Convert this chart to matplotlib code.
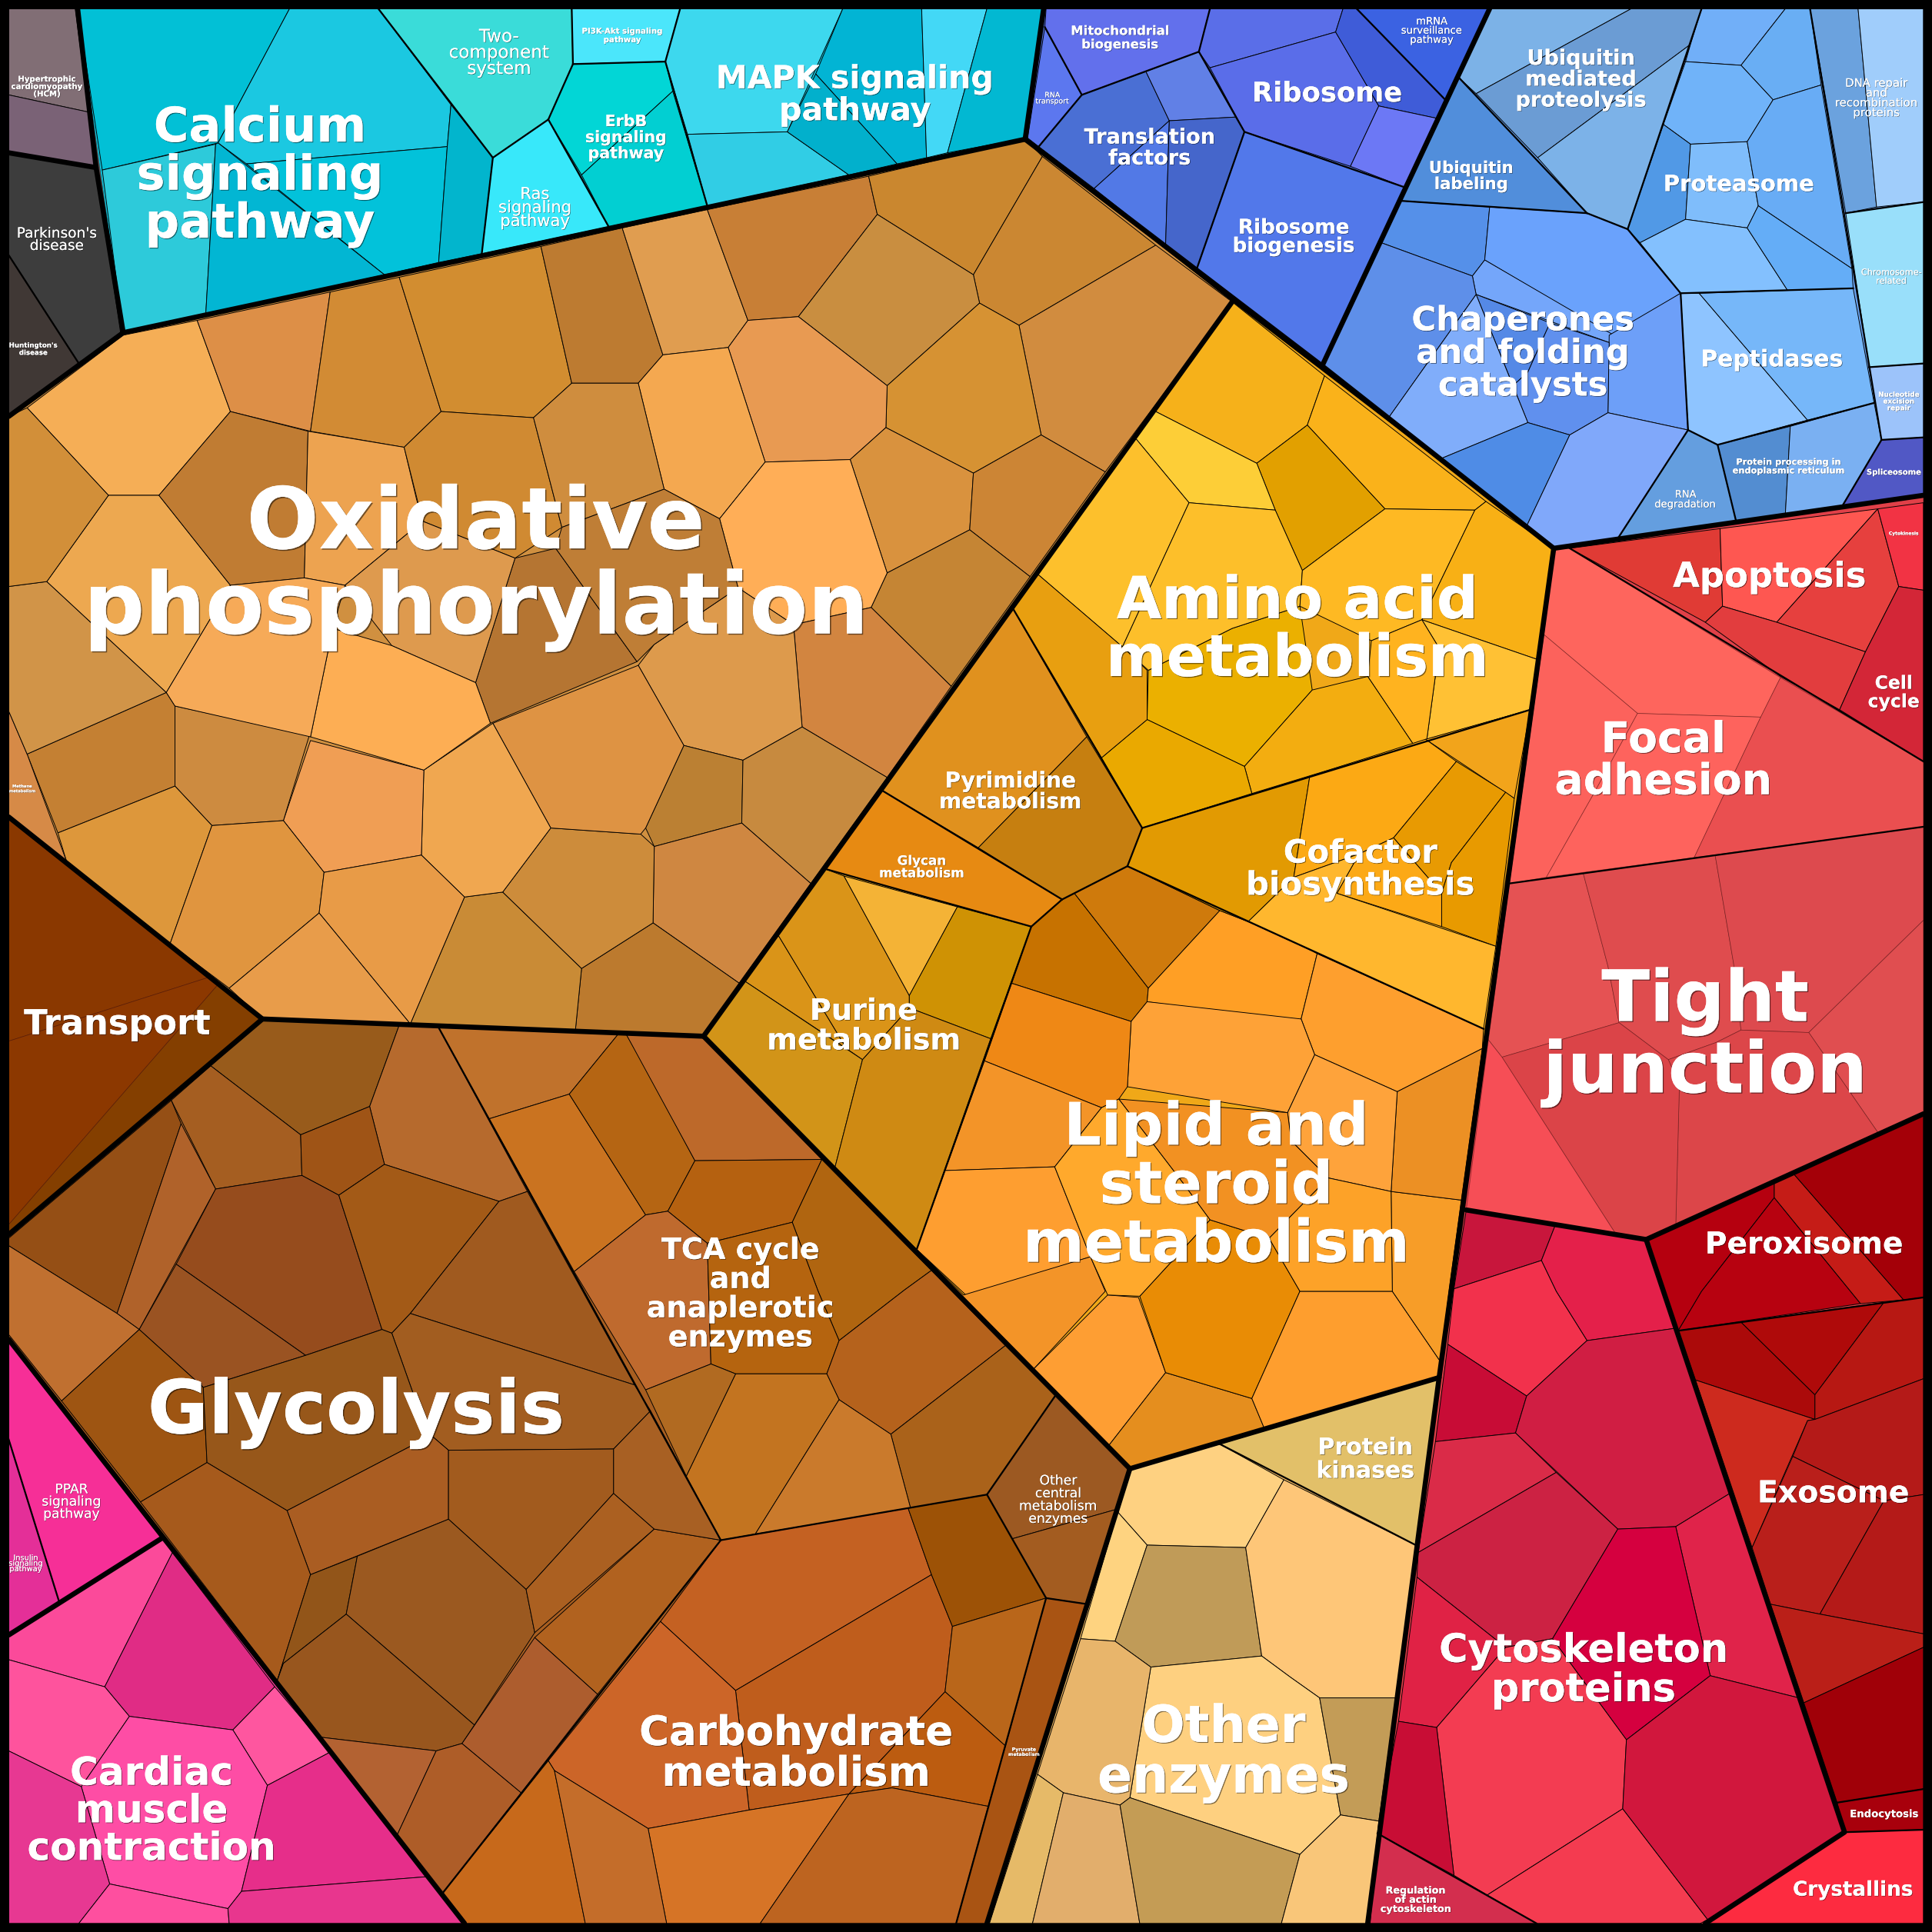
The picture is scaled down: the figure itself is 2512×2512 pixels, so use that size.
import matplotlib
matplotlib.use("Agg")
import matplotlib.pyplot as plt
import matplotlib.patheffects as pe
from matplotlib.collections import PolyCollection
from matplotlib.font_manager import FontProperties
from matplotlib.textpath import TextPath

# voronoi treemap, cell outlines (1568 units across)
disease_cells = [
    ("#816e75", [(7,7),(61,7),(72,91),(7,77)]),
    ("#7a6276", [(7,77),(72,91),(78,136),(7,124)]),
    ("#3d3d3d", [(7,124),(78,136),(98,271),(64,295),(7,207)]),
    ("#403835", [(7,207),(64,295),(7,338)]),
]
signaling_cells = [
    ("#02c0d6", [(63,7),(235,7),(177,116),(83,138)]),
    ("#1bc8e1", [(235,7),(307,7),(366,85),(363,119),(200,133),(177,116)]),
    ("#02c2da", [(200,133),(363,119),(356,213),(312,223)]),
    ("#02b5cd", [(366,85),(400,128),(391,206),(356,213),(363,119)]),
    ("#2dcada", [(83,138),(175,117),(167,255),(100,270)]),
    ("#02b6d3", [(175,117),(177,116),(312,223),(167,255)]),
    ("#3adcd9", [(307,7),(464,7),(465,52),(445,97),(400,128)]),
    ("#4be6fb", [(464,7),(552,7),(540,50),(465,52)]),
    ("#02d6d6", [(465,52),(540,50),(546,74),(472,142),(445,97)]),
    ("#02cfd2", [(546,74),(574,167),(494,184),(472,142)]),
    ("#38e8fa", [(445,97),(494,184),(391,206),(400,128)]),
    ("#3dd8ee", [(552,7),(684,7),(639,107),(558,109),(540,50)]),
    ("#31cde5", [(558,109),(639,107),(689,142),(574,167)]),
    ("#02b4d4", [(684,7),(748,7),(752,128),(728,133),(662,60)]),
    ("#02b0cc", [(662,60),(728,133),(689,142),(639,107)]),
    ("#43d8f6", [(748,7),(801,7),(769,124),(752,128)]),
    ("#02b8d2", [(801,7),(847,7),(833,112),(769,124)]),
]
translation_cells = [
    ("#5c77ef", [(848,22),(878,77),(843,119),(834,112)]),
    ("#6270ec", [(849,7),(982,7),(973,42),(878,77),(848,22)]),
    ("#4a6fd4", [(878,77),(930,58),(949,98),(888,153),(843,119)]),
    ("#6180e6", [(930,58),(973,42),(1003,95),(949,98)]),
    ("#5279e6", [(949,98),(946,199),(888,153)]),
    ("#4566cb", [(949,98),(1003,95),(1010,107),(971,219),(946,199)]),
    ("#5278ea", [(1010,107),(1140,152),(1136,163),(1073,297),(971,219)]),
    ("#5a6ee8", [(982,7),(1090,7),(1084,26),(982,55),(973,42)]),
    ("#5a6de9", [(982,55),(1084,26),(1119,86),(1096,135),(1010,107)]),
    ("#3f5cd8", [(1090,7),(1101,7),(1173,81),(1166,96),(1119,86),(1084,26)]),
    ("#6c78f5", [(1119,86),(1166,96),(1140,152),(1096,135)]),
    ("#3b62e2", [(1101,7),(1209,7),(1173,81)]),
]
proteostasis_cells = [
    ("#7cb2e7", [(1209,7),(1324,7),(1198,76),(1184,63)]),
    ("#6b9cd4", [(1324,7),(1381,7),(1372,36),(1248,128),(1198,76)]),
    ("#7cb2e8", [(1372,36),(1321,186),(1288,173),(1248,128)]),
    ("#518edb", [(1184,63),(1288,173),(1137,163)]),
    ("#71aff8", [(1381,7),(1449,7),(1413,53),(1368,50),(1372,36)]),
    ("#69aef4", [(1449,7),(1469,7),(1478,69),(1439,81),(1413,53)]),
    ("#70b3f9", [(1368,50),(1413,53),(1439,81),(1418,115),(1372,117),(1350,101)]),
    ("#5199e6", [(1350,101),(1372,117),(1368,178),(1331,197),(1321,186)]),
    ("#7fbdfb", [(1372,117),(1418,115),(1427,167),(1418,185),(1368,178)]),
    ("#68acf5", [(1439,81),(1478,69),(1503,218),(1427,167),(1418,115)]),
    ("#83c0fe", [(1331,197),(1368,178),(1418,185),(1451,236),(1364,238)]),
    ("#64adf7", [(1418,185),(1427,167),(1503,218),(1504,234),(1451,236)]),
    ("#8ec4ff", [(1364,238),(1379,238),(1467,341),(1394,361),(1370,349)]),
    ("#76b7f9", [(1379,238),(1504,234),(1521,327),(1467,341)]),
    ("#649edf", [(1370,349),(1394,361),(1409,423),(1313,437)]),
    ("#538dd1", [(1394,361),(1453,346),(1449,417),(1409,423)]),
    ("#7ab0f2", [(1453,346),(1521,327),(1527,357),(1495,411),(1449,417)]),
    ("#5158c5", [(1527,357),(1561,355),(1561,402),(1495,411)]),
    ("#9cc3fa", [(1517,298),(1561,295),(1561,355),(1527,357)]),
    ("#99dffa", [(1498,173),(1561,164),(1561,295),(1517,298)]),
    ("#6ba2de", [(1469,7),(1508,7),(1523,168),(1498,173)]),
    ("#a0cdfb", [(1508,7),(1561,7),(1561,164),(1523,168)]),
    ("#5590e9", [(1137,163),(1209,168),(1205,211),(1195,224),(1121,197)]),
    ("#6aa2fc", [(1209,168),(1288,173),(1321,186),(1364,238),(1326,262),(1308,272),(1205,211)]),
    ("#74a6fa", [(1205,211),(1308,271),(1306,278),(1198,239),(1195,224)]),
    ("#6d9ff8", [(1364,238),(1370,349),(1305,335),(1306,272)]),
    ("#5589e6", [(1198,239),(1258,262),(1240,302),(1228,313)]),
    ("#6090ee", [(1258,262),(1306,278),(1305,335),(1274,353),(1240,343),(1228,313),(1240,302)]),
    ("#5e8fe9", [(1121,197),(1195,224),(1198,239),(1127,339),(1073,297)]),
    ("#80adfa", [(1127,339),(1198,239),(1240,343),(1170,372)]),
    ("#4f8ce6", [(1170,372),(1240,343),(1274,353),(1239,427)]),
    ("#80a8fa", [(1274,353),(1305,335),(1370,349),(1313,437),(1261,445),(1239,427)]),
]
amino_cells = [
    ("#f6b11a", [(1000,245),(1075,305),(1061,345),(1020,376),(936,333)]),
    ("#fab21a", [(1075,305),(1206,407),(1197,414),(1124,413),(1061,345)]),
    ("#e2a000", [(1061,345),(1124,413),(1057,463),(1035,414),(1020,376)]),
    ("#fdce37", [(936,333),(1020,376),(1035,414),(965,408),(921,355)]),
    ("#fdc02c", [(921,355),(965,408),(911,525),(841,465)]),
    ("#ebb000", [(932,544),(1000,510),(1055,492),(1065,560),(1010,622),(931,584)]),
    ("#fdbf2a", [(965,408),(1035,414),(1057,463),(1055,492),(1000,510),(932,544),(911,525)]),
    ("#feb923", [(1057,463),(1124,413),(1197,414),(1154,503),(1113,520),(1055,492)]),
    ("#f8b015", [(1197,414),(1206,407),(1261,445),(1250,536),(1154,503)]),
    ("#ffc134", [(1154,503),(1250,536),(1242,576),(1158,600),(1168,526)]),
    ("#ffb31f", [(1113,520),(1154,503),(1168,526),(1158,600),(1147,604),(1110,549)]),
    ("#f3ad10", [(1065,560),(1110,549),(1147,604),(1016,644),(1010,622)]),
    ("#eaa900", [(931,584),(1010,622),(1016,644),(927,672),(894,615)]),
    ("#e89f10", [(841,465),(911,525),(931,544),(931,584),(894,615),(821,492)]),
]
nucleotide_cells = [
    ("#e0911e", [(821,492),(882,598),(794,688),(715,641)]),
    ("#c67f10", [(882,598),(927,672),(915,703),(862,730),(794,688)]),
    ("#e78a12", [(715,641),(862,730),(837,752),(669,705)]),
    ("#da9418", [(631,758),(687,851),(604,796)]),
    ("#da9418", [(669,705),(685,711),(738,808),(738,818),(700,860),(687,851),(631,758)]),
    ("#f4b336", [(685,711),(777,736),(738,808)]),
    ("#cf9204", [(777,736),(837,752),(804,843),(738,818),(738,808)]),
    ("#d29418", [(604,796),(700,860),(677,950),(571,841)]),
    ("#cf8a13", [(700,860),(738,818),(804,843),(744,1014),(677,950)]),
]
oxphos_cells = [
    ("#f5ae56", [(100,272),(160,260),(187,334),(129,402),(88,402),(22,331)]),
    ("#dd8f47", [(160,260),(268,237),(252,350),(187,334)]),
    ("#d28b34", [(268,237),(324,225),(358,334),(328,363),(252,350)]),
    ("#d28d30", [(324,225),(439,200),(464,311),(433,339),(358,334)]),
    ("#bd7b31", [(439,200),(505,185),(538,288),(518,311),(464,311)]),
    ("#e09d50", [(505,185),(574,170),(607,260),(591,282),(538,288)]),
    ("#c87f36", [(574,170),(705,143),(712,174),(648,257),(607,260)]),
    ("#ca872f", [(705,143),(832,113),(846,127),(790,223),(712,174)]),
    ("#cb8732", [(846,127),(938,199),(827,264),(795,246),(790,223)]),
    ("#c98e40", [(712,174),(790,223),(795,246),(720,313),(648,257)]),
    ("#d18c3f", [(938,199),(1000,245),(897,383),(845,353),(827,264)]),
    ("#d69233", [(795,246),(827,264),(845,353),(790,384),(719,347),(720,313)]),
    ("#e89a52", [(648,257),(720,313),(719,347),(690,373),(621,375),(591,282),(607,260)]),
    ("#f4a850", [(538,288),(591,282),(621,375),(584,421),(539,397),(518,311)]),
    ("#d9923e", [(690,373),(719,347),(790,384),(787,430),(720,465)]),
    ("#cc8535", [(790,384),(845,353),(897,383),(836,468),(787,430)]),
    ("#c58534", [(787,430),(836,468),(772,557),(707,493),(720,465)]),
    ("#ffae57", [(621,375),(690,373),(720,465),(707,493),(644,507),(599,477),(584,421)]),
    ("#d28540", [(644,507),(707,493),(772,557),(720,631),(651,590)]),
    ("#dd9a4c", [(531,523),(599,477),(644,507),(651,590),(603,617),(555,605),(518,540)]),
    ("#bb8033", [(603,617),(602,668),(531,687),(524,672),(555,605)]),
    ("#c78a3f", [(603,617),(651,590),(720,631),(658,717),(602,668)]),
    ("#cf8741", [(531,687),(602,668),(658,717),(600,798),(530,749)]),
    ("#bc7a2e", [(472,786),(530,749),(600,798),(571,841),(467,836)]),
    ("#c98b36", [(377,728),(408,724),(472,786),(467,836),(333,831)]),
    ("#cd8c3b", [(408,724),(447,672),(520,677),(531,687),(530,749),(472,786)]),
    ("#de9343", [(400,587),(518,540),(555,605),(524,672),(520,677),(447,672)]),
    ("#f0a750", [(344,625),(400,587),(447,672),(408,724),(377,728),(342,694)]),
    ("#f09e54", [(252,601),(344,625),(342,694),(263,708),(230,666)]),
    ("#cd8b40", [(142,573),(251,597),(230,666),(172,670),(142,638)]),
    ("#c48033", [(135,562),(142,573),(142,638),(47,676),(22,612)]),
    ("#dd973b", [(47,676),(142,638),(172,670),(138,766),(54,699)]),
    ("#e0953f", [(172,670),(230,666),(263,708),(259,741),(186,802),(138,766)]),
    ("#e89b47", [(263,708),(342,694),(377,728),(333,831),(259,741)]),
    ("#e89c4a", [(259,741),(333,831),(213,827),(186,802)]),
    ("#d68a47", [(7,577),(22,612),(54,699),(7,663)]),
    ("#d19448", [(7,476),(38,472),(135,562),(22,612),(7,577)]),
    ("#eda850", [(38,472),(88,402),(129,402),(187,475),(135,562)]),
    ("#d28f39", [(7,338),(22,331),(88,402),(38,472),(7,476)]),
    ("#c07c33", [(187,334),(250,350),(247,469),(187,475),(129,402)]),
    ("#eda350", [(250,350),(328,363),(338,405),(343,423),(332,432),(280,475),(247,469)]),
    ("#d08a32", [(358,334),(433,339),(456,428),(418,453),(343,423),(328,363)]),
    ("#cf8d3e", [(433,339),(464,311),(518,311),(539,397),(456,428)]),
    ("#b57532", [(418,453),(451,445),(517,537),(398,587),(386,554)]),
    ("#bf7e36", [(456,428),(539,397),(584,421),(599,477),(531,523),(517,537),(451,445)]),
    ("#de9a4e", [(280,475),(332,432),(343,423),(418,453),(386,554),(318,524)]),
    ("#fdae54", [(270,510),(318,524),(386,554),(398,587),(344,625),(252,598)]),
    ("#f6aa58", [(187,475),(247,469),(280,475),(270,510),(252,598),(142,573),(135,562)]),
]
transport_cells = [
    ("#8a3800", [(7,663),(170,793),(7,845)]),
    ("#8c3800", [(7,845),(170,793),(177,799),(7,994)]),
    ("#843f00", [(177,799),(213,826),(7,1002),(7,994)]),
]
glycolysis_cells = [
    ("#985b1b", [(213,827),(324,832),(300,898),(244,921),(171,865)]),
    ("#b66a2d", [(324,832),(356,834),(428,967),(405,975),(312,945),(300,898)]),
    ("#a55e21", [(171,865),(244,921),(245,954),(175,965),(139,893)]),
    ("#9f5416", [(244,921),(300,898),(312,945),(275,970),(245,954)]),
    ("#954f15", [(7,1005),(139,893),(147,912),(95,1066),(7,1011)]),
    ("#b0622a", [(147,912),(175,965),(113,1079),(95,1066)]),
    ("#964c1d", [(143,1026),(175,965),(245,954),(275,970),(310,1079),(248,1100)]),
    ("#9a5322", [(143,1026),(248,1100),(165,1126),(113,1079)]),
    ("#a35a17", [(275,970),(312,945),(405,975),(333,1066),(318,1082),(310,1079)]),
    ("#a05a1f", [(405,975),(428,967),(515,1124),(333,1066)]),
    ("#a25d20", [(318,1082),(333,1066),(515,1124),(528,1145),(498,1176),(364,1177),(350,1165),(335,1130)]),
    ("#c07030", [(7,1011),(95,1066),(113,1079),(50,1137),(7,1083)]),
    ("#9e5512", [(113,1079),(165,1126),(168,1187),(114,1219),(50,1137)]),
    ("#97571a", [(165,1126),(248,1100),(310,1079),(318,1082),(335,1130),(350,1165),(233,1226),(168,1187)]),
    ("#aa5d22", [(233,1226),(350,1165),(364,1177),(364,1233),(252,1278)]),
    ("#a25b1e", [(364,1177),(498,1176),(498,1212),(427,1290),(364,1233)]),
    ("#a65a1c", [(114,1219),(168,1187),(233,1226),(252,1278),(225,1364)]),
    ("#925519", [(252,1278),(290,1263),(281,1310),(230,1350),(225,1364)]),
    ("#9b5920", [(290,1263),(364,1233),(427,1290),(434,1325),(385,1400),(281,1310)]),
    ("#98561e", [(230,1350),(281,1310),(385,1400),(375,1415),(354,1421),(261,1410),(225,1364)]),
    ("#b36232", [(261,1410),(354,1421),(322,1490)]),
    ("#ae5d28", [(354,1421),(375,1415),(423,1455),(358,1538),(322,1490)]),
    ("#ad5d2e", [(375,1415),(434,1329),(485,1375),(423,1455)]),
    ("#ab6021", [(427,1290),(498,1212),(531,1241),(434,1325)]),
    ("#b1621f", [(434,1329),(531,1241),(585,1250),(485,1375)]),
    ("#a86023", [(498,1176),(528,1145),(585,1250),(531,1241),(498,1212)]),
]
tca_cells = [
    ("#c0722c", [(356,834),(502,839),(462,888),(397,908)]),
    ("#ca7320", [(397,908),(462,888),(524,986),(466,1032)]),
    ("#b56513", [(462,888),(502,839),(508,839),(524,867),(564,942),(542,983),(524,986)]),
    ("#bd692a", [(508,839),(571,841),(667,941),(564,942)]),
    ("#b56110", [(564,942),(667,941),(643,992),(574,1009),(542,983)]),
    ("#b06510", [(667,941),(756,1031),(734,1047),(681,1088),(664,1048),(643,992)]),
    ("#bf6a2e", [(466,1032),(524,986),(542,983),(574,1009),(577,1107),(524,1128)]),
    ("#b5640f", [(574,1009),(643,992),(664,1048),(681,1088),(671,1115),(597,1115),(577,1107)]),
    ("#b5621c", [(734,1047),(756,1031),(816,1092),(723,1164),(681,1136),(671,1115),(681,1088)]),
    ("#aa621a", [(816,1092),(857,1132),(801,1213),(739,1224),(723,1164)]),
    ("#c37420", [(597,1115),(671,1115),(681,1136),(613,1245),(585,1250),(557,1198)]),
    ("#ca7a2c", [(681,1136),(723,1164),(739,1224),(613,1245)]),
    ("#b16a21", [(524,1128),(577,1107),(597,1115),(557,1198)]),
    ("#9c5922", [(857,1132),(917,1192),(906,1225),(821,1249),(801,1213)]),
    ("#a35c20", [(821,1249),(906,1225),(883,1302),(849,1297)]),
    ("#a95413", [(849,1297),(883,1302),(801,1561),(776,1561)]),
]
carbohydrate_cells = [
    ("#c46122", [(585,1250),(737,1224),(756,1278),(597,1372),(536,1316)]),
    ("#bf5d1c", [(756,1278),(773,1320),(767,1373),(689,1456),(608,1469),(597,1372)]),
    ("#9d5206", [(737,1224),(801,1213),(849,1297),(773,1320),(756,1278)]),
    ("#b9661a", [(773,1320),(849,1297),(816,1417),(767,1373)]),
    ("#bc5c10", [(767,1373),(816,1417),(802,1466),(724,1451),(689,1456)]),
    ("#cc6528", [(536,1316),(597,1372),(608,1469),(526,1484),(450,1437),(445,1429)]),
    ("#d67426", [(526,1484),(608,1469),(689,1456),(617,1561),(541,1561)]),
    ("#bd6420", [(689,1456),(724,1451),(802,1466),(776,1561),(617,1561)]),
    ("#c7691b", [(445,1429),(450,1437),(475,1561),(377,1561),(358,1538)]),
    ("#c46d2a", [(450,1437),(526,1484),(541,1561),(475,1561)]),
]
lipid_cells = [
    ("#c77200", [(862,730),(872,725),(932,802),(931,813),(918,829),(821,798),(837,752)]),
    ("#cf7a0c", [(872,725),(915,703),(990,739),(932,802)]),
    ("#ff9f25", [(990,739),(1013,748),(1048,762),(1069,774),(1056,827),(1047,829),(931,813),(932,802)]),
    ("#fe9f2e", [(1069,774),(1204,835),(1203,851),(1134,886),(1067,856),(1056,827)]),
    ("#fea237", [(931,813),(1056,827),(1067,856),(1045,903),(915,882),(918,829)]),
    ("#ef8815", [(821,798),(918,829),(915,882),(908,892),(894,899),(799,861)]),
    ("#f39428", [(799,861),(894,899),(856,947),(767,950)]),
    ("#fe9e30", [(767,950),(856,947),(885,1020),(785,1052),(744,1014)]),
    ("#f39428", [(782,1051),(885,1020),(897,1048),(839,1111),(744,1014)]),
    ("#fe9e33", [(899,1051),(924,1053),(946,1114),(900,1173),(839,1111)]),
    ("#e58e1e", [(946,1114),(1016,1135),(1026,1159),(917,1192),(900,1173)]),
    ("#e98c05", [(925,1052),(982,990),(1030,1005),(1055,1048),(1016,1135),(946,1114)]),
    ("#fe9e2e", [(1016,1135),(1055,1048),(1130,1048),(1169,1105),(1168,1118),(1026,1159)]),
    ("#f79d28", [(1130,1048),(1129,967),(1186,974),(1176,1048),(1169,1105)]),
    ("#ec9024", [(1134,886),(1203,851),(1186,974),(1129,967)]),
    ("#fea33b", [(1067,856),(1134,886),(1129,967),(1078,956),(1048,926),(1045,903)]),
    ("#f29122", [(908,892),(1045,903),(1048,926),(1078,956),(1030,1005),(982,990),(960,960)]),
    ("#ffa92c", [(894,899),(908,892),(960,960),(982,990),(925,1052),(899,1051),(885,1020),(856,947)]),
    ("#fda228", [(1030,1005),(1078,956),(1129,967),(1130,1048),(1055,1048)]),
]
cofactor_cells = [
    ("#f2a41b", [(1157,600),(1242,576),(1229,648)]),
    ("#e29a02", [(927,672),(1063,630),(1050,712),(1013,748),(990,739),(915,703)]),
    ("#fca914", [(1063,630),(1157,600),(1182,618),(1131,680),(1103,693),(1050,712)]),
    ("#e89a02", [(1182,618),(1222,643),(1178,700),(1170,725),(1131,680)]),
    ("#e89a00", [(1222,643),(1229,648),(1214,768),(1170,752),(1170,725),(1178,700)]),
    ("#fca916", [(1131,680),(1170,725),(1170,752),(1085,725),(1103,693)]),
    ("#ffb72e", [(1013,748),(1050,712),(1103,693),(1085,725),(1214,768),(1204,835)]),
]
enzyme_cells = [
    ("#e2c069", [(990,1172),(1168,1118),(1149,1254)]),
    ("#fed181", [(917,1192),(990,1172),(1042,1201),(1011,1256),(931,1254),(907,1227)]),
    ("#fed380", [(907,1227),(931,1254),(905,1332),(877,1330)]),
    ("#c09b58", [(931,1254),(1011,1256),(1024,1344),(934,1353),(905,1332)]),
    ("#fec678", [(1042,1201),(1149,1254),(1133,1378),(1071,1378),(1047,1361),(1024,1344),(1011,1256)]),
    ("#fed080", [(934,1353),(1024,1344),(1047,1361),(1071,1378),(1088,1473),(1055,1505),(917,1459)]),
    ("#c39c57", [(1071,1378),(1133,1378),(1119,1478),(1088,1473)]),
    ("#e8b56b", [(877,1330),(905,1332),(934,1353),(917,1459),(909,1465),(863,1455),(842,1440)]),
    ("#e6ba68", [(842,1440),(863,1455),(838,1561),(803,1561)]),
    ("#e2ae6c", [(863,1455),(909,1465),(925,1561),(838,1561)]),
    ("#c49c55", [(909,1465),(917,1459),(1055,1505),(1040,1561),(925,1561)]),
    ("#f9c679", [(1055,1505),(1088,1473),(1119,1478),(1110,1561),(1040,1561)]),
]
apoptosis_cells = [
    ("#e03b35", [(1274,445),(1396,429),(1398,492),(1384,505)]),
    ("#fe5751", [(1396,429),(1524,413),(1442,505),(1398,492)]),
    ("#e6403e", [(1524,413),(1541,476),(1514,529),(1442,505)]),
    ("#e23d3e", [(1398,492),(1442,505),(1514,529),(1493,576),(1445,549),(1384,505)]),
    ("#f23344", [(1524,413),(1561,408),(1561,479),(1541,476)]),
    ("#d32637", [(1541,476),(1561,479),(1561,618),(1493,576),(1514,529)]),
]
junction_cells = [
    ("#fe655d", [(1261,445),(1274,445),(1445,550),(1429,582),(1329,579),(1253,515)]),
    ("#fc625c", [(1253,515),(1329,579),(1293,645),(1255,712),(1225,717)]),
    ("#fe635d", [(1329,579),(1429,582),(1375,696),(1255,712),(1293,645)]),
    ("#ea4f50", [(1445,550),(1561,618),(1561,671),(1375,696),(1429,582)]),
    ("#e55253", [(1225,717),(1285,709),(1305,784),(1314,830),(1219,858),(1208,844)]),
    ("#df4c4e", [(1285,709),(1392,694),(1407,782),(1413,836),(1393,846),(1354,860),(1314,830),(1305,784)]),
    ("#dd4a4e", [(1392,694),(1561,671),(1561,747),(1468,838),(1413,836),(1407,782)]),
    ("#e04e50", [(1468,838),(1561,747),(1561,904),(1524,919)]),
    ("#dc4649", [(1413,836),(1468,838),(1524,919),(1360,996),(1363,880),(1354,860),(1393,846)]),
    ("#db4448", [(1219,858),(1314,830),(1354,860),(1363,880),(1360,996),(1336,1006),(1311,1001)]),
    ("#f64e56", [(1208,844),(1219,858),(1311,1001),(1190,982)]),
]
exosome_cells = [
    ("#b5000f", [(1336,1006),(1440,960),(1440,972),(1381,1048),(1362,1080)]),
    ("#b70210", [(1440,972),(1510,1058),(1362,1080),(1381,1048)]),
    ("#c51c17", [(1440,960),(1456,953),(1545,1055),(1510,1058),(1440,972)]),
    ("#a40008", [(1456,953),(1561,904),(1561,1053),(1545,1055)]),
    ("#ab0a0a", [(1362,1080),(1413,1073),(1473,1132),(1473,1152),(1376,1120)]),
    ("#af0a0a", [(1413,1073),(1529,1057),(1473,1132)]),
    ("#b71813", [(1529,1057),(1561,1053),(1561,1119),(1473,1152),(1473,1132)]),
    ("#cd2a1e", [(1376,1120),(1473,1152),(1467,1153),(1422,1256)]),
    ("#b41a18", [(1467,1153),(1473,1152),(1561,1119),(1561,1213),(1529,1218),(1455,1182)]),
    ("#b91f1b", [(1455,1182),(1529,1218),(1477,1310),(1437,1302),(1422,1256)]),
    ("#b41a18", [(1529,1218),(1561,1213),(1561,1326),(1477,1310)]),
    ("#ba1f18", [(1437,1302),(1477,1310),(1561,1326),(1561,1337),(1464,1382)]),
    ("#a00008", [(1464,1382),(1561,1337),(1561,1452),(1491,1463)]),
    ("#a8000c", [(1491,1463),(1561,1452),(1561,1485),(1497,1487)]),
    ("#fd2b40", [(1497,1487),(1561,1485),(1561,1561),(1384,1561)]),
]
cytoskeleton_cells = [
    ("#c8163c", [(1190,982),(1262,995),(1251,1023),(1180,1046)]),
    ("#e4204a", [(1262,995),(1336,1006),(1360,1078),(1288,1088),(1263,1048),(1251,1023)]),
    ("#f2314c", [(1251,1023),(1263,1048),(1288,1088),(1239,1133),(1175,1091),(1180,1046)]),
    ("#c80c36", [(1175,1091),(1239,1133),(1230,1163),(1165,1170)]),
    ("#d01e43", [(1288,1088),(1360,1078),(1404,1212),(1360,1239),(1313,1241),(1230,1163),(1239,1133)]),
    ("#da2b48", [(1165,1170),(1230,1163),(1263,1195),(1151,1260)]),
    ("#cc2243", [(1150,1280),(1151,1260),(1263,1195),(1313,1241),(1260,1330),(1222,1337)]),
    ("#e0234a", [(1360,1239),(1404,1212),(1460,1378),(1388,1360)]),
    ("#d5003f", [(1313,1241),(1360,1239),(1388,1360),(1320,1412),(1260,1330)]),
    ("#e02245", [(1150,1280),(1222,1337),(1166,1402),(1135,1397)]),
    ("#f33c52", [(1166,1402),(1222,1337),(1260,1330),(1320,1412),(1317,1468),(1207,1538),(1180,1522)]),
    ("#c80d35", [(1135,1397),(1166,1402),(1180,1522),(1118,1488)]),
    ("#d32e4e", [(1118,1488),(1207,1538),(1247,1561),(1112,1561)]),
    ("#f43b50", [(1207,1538),(1317,1468),(1386,1558),(1380,1561),(1247,1561)]),
    ("#d1173d", [(1320,1412),(1388,1360),(1460,1378),(1497,1487),(1386,1558),(1317,1468)]),
]
cardiac_cells = [
    ("#f62f97", [(7,1087),(132,1248),(48,1300),(7,1168)]),
    ("#e42f98", [(7,1168),(48,1300),(7,1327)]),
    ("#fb4a9a", [(7,1327),(132,1248),(140,1260),(85,1369),(7,1347)]),
    ("#e02c85", [(140,1260),(223,1369),(189,1404),(105,1393),(85,1369)]),
    ("#fe539d", [(7,1347),(85,1369),(105,1393),(66,1450),(7,1421)]),
    ("#fe569f", [(189,1404),(223,1369),(268,1422),(217,1449)]),
    ("#fe4da5", [(105,1393),(189,1404),(217,1449),(196,1535),(185,1549),(89,1529),(66,1450)]),
    ("#e62e8a", [(268,1422),(348,1523),(196,1535),(217,1449)]),
    ("#e73892", [(7,1421),(66,1450),(89,1529),(64,1561),(7,1561)]),
    ("#fe4f9f", [(89,1529),(185,1549),(186,1561),(64,1561)]),
    ("#e8368e", [(196,1535),(348,1523),(377,1561),(186,1561),(185,1549)]),
]

# underlay so small gaps between read-off cells do not show black
region_colors = ["#5a5050","#10c0d8","#5272e0","#6aa4f0","#e04048","#f0a818","#f0b860","#d09040","#8a3c00","#a85e20","#f03c96"]
region_shapes = [
    [(7,7),(63,7),(100,270),(7,338)],
    [(63,7),(847,7),(832,113),(100,270)],
    [(847,7),(1209,7),(1073,297),(832,113)],
    [(1209,7),(1561,7),(1561,402),(1261,445),(1073,297)],
    [(1261,445),(1561,402),(1561,1561),(1110,1561),(1168,1118)],
    [(1000,245),(1261,445),(1168,1118),(917,1192),(571,841)],
    [(917,1192),(1168,1118),(1110,1561),(801,1561)],
    [(100,270),(832,113),(1000,245),(571,841),(213,827),(7,663),(7,338)],
    [(7,663),(213,827),(7,1002)],
    [(213,827),(571,841),(917,1192),(801,1561),(377,1561),(7,1087),(7,1002)],
    [(7,1087),(377,1561),(7,1561)],
]
heavy_borders = [
    [(63,7),(78,136),(100,270),(832,113),(847,7)],
    [(7,338),(100,270)],
    [(832,113),(1073,297),(1209,7)],
    [(1073,297),(1261,445),(1561,402)],
    [(1000,245),(571,841),(213,827),(7,663)],
    [(1261,445),(1168,1118),(1110,1561)],
    [(917,1192),(1168,1118)],
    [(917,1192),(801,1561)],
    [(571,841),(917,1192)],
    [(7,1002),(213,827)],
    [(7,1087),(377,1561)],
    [(7,1327),(132,1248)],
    [(1190,982),(1336,1006),(1561,904)],
    [(1336,1006),(1497,1487),(1384,1561)],
    [(7,124),(78,136)],
]
medium_borders = [
    [(307,7),(400,128),(391,206)],
    [(400,128),(445,97),(465,52),(464,7)],
    [(445,97),(494,184)],
    [(465,52),(540,50),(552,7)],
    [(540,50),(574,167)],
    [(64,295),(7,207)],
    [(848,22),(878,77),(843,119)],
    [(878,77),(973,42),(982,7)],
    [(973,42),(1010,107),(971,219)],
    [(1010,107),(1140,152)],
    [(1101,7),(1173,81)],
    [(1184,63),(1288,173)],
    [(1137,163),(1288,173),(1321,186),(1381,7)],
    [(1321,186),(1364,238),(1370,349),(1313,437)],
    [(1364,238),(1504,234)],
    [(1370,349),(1394,361),(1521,327)],
    [(1394,361),(1409,423)],
    [(1469,7),(1527,357),(1495,411)],
    [(1498,173),(1561,164)],
    [(1517,298),(1561,295)],
    [(1527,357),(1561,355)],
    [(821,492),(927,672),(1242,576)],
    [(927,672),(915,703),(1204,835)],
    [(915,703),(862,730),(837,752),(744,1014)],
    [(862,730),(715,641)],
    [(837,752),(669,705)],
    [(356,834),(585,1250),(801,1213),(857,1132)],
    [(585,1250),(358,1538)],
    [(801,1213),(849,1297),(883,1302)],
    [(849,1297),(776,1561)],
    [(990,1172),(1149,1254)],
    [(1225,717),(1561,671)],
    [(1274,445),(1561,618)],
    [(1362,1080),(1561,1053)],
    [(1491,1463),(1561,1452)],
    [(1497,1487),(1561,1485)],
    [(1118,1488),(1247,1561)],
    [(7,1168),(48,1300)],
]

label_lines = [
    ["Oxidative","phosphorylation"],["Calcium","signaling","pathway"],["Two-","component","system"],
    ["PI3K-Akt signaling","pathway"],["ErbB","signaling","pathway"],["Ras","signaling","pathway"],
    ["MAPK signaling","pathway"],["Hypertrophic","cardiomyopathy","(HCM)"],["Parkinson's","disease"],
    ["Huntington's","disease"],["Mitochondrial","biogenesis"],["RNA","transport"],
    ["Translation","factors"],["Ribosome"],["Ribosome","biogenesis"],["mRNA","surveillance","pathway"],
    ["Ubiquitin","mediated","proteolysis"],["Ubiquitin","labeling"],["Proteasome"],
    ["DNA repair","and","recombination","proteins"],["Chaperones","and folding","catalysts"],["Peptidases"],
    ["Chromosome-","related"],["Nucleotide","excision","repair"],["RNA","degradation"],
    ["Protein processing in","endoplasmic reticulum"],["Spliceosome"],["Apoptosis"],["Cytokinesis"],
    ["Cell","cycle"],["Focal","adhesion"],["Tight","junction"],["Amino acid","metabolism"],
    ["Pyrimidine","metabolism"],["Glycan","metabolism"],["Purine","metabolism"],["Cofactor","biosynthesis"],
    ["Lipid and","steroid","metabolism"],["Transport"],["Glycolysis"],
    ["TCA cycle","and","anaplerotic","enzymes"],["Other","central","metabolism","enzymes"],
    ["Carbohydrate","metabolism"],["Pyruvate","metabolism"],["Protein","kinases"],["Other","enzymes"],
    ["Cytoskeleton","proteins"],["Regulation","of actin","cytoskeleton"],["Peroxisome"],["Exosome"],
    ["Endocytosis"],["Crystallins"],["Cardiac","muscle","contraction"],["PPAR","signaling","pathway"],
    ["Insulin","signaling","pathway"],["Methane","metabolism"],
]
label_x = [386,211,405,505,508,434,694,38,46,27,909,854,933,1077,1050,1162,1283,1194,1411,1523,1236,1438,
           1535,1541,1368,1452,1537,1436,1545,1537,1350,1384,1053,820,748,701,1104,987,95,289,601,859,646,831,
           1108,993,1285,1149,1464,1488,1529,1504,123,58,21,18]
label_first_y = [422,102,29,25,98,157,63,64,189,280,25,77,111,75,184,17,47,136,149,67,259,291,221,320,401,375,
                 383,467,433,554,599,809,486,633,698,820,691,913,830,1143,1014,1201,1405,1420,1174,1400,1338,
                 1534,1009,1211,1472,1533,1438,1208,1264,638]
label_last_y = [491,180,55,32,124,179,89,76,199,286,36,82,128,75,199,32,81,149,149,91,312,291,228,331,409,382,
                383,467,433,569,633,867,533,650,708,844,717,1008,830,1143,1085,1232,1438,1424,1193,1441,1370,
                1549,1009,1211,1472,1533,1499,1228,1273,642]
label_width = [632,197,81,65,65,58,223,58,64,39,79,27,106,120,98,49,105,67,121,66,180,114,49,33,49,91,44,157,
               24,41,174,263,306,114,68,155,184,309,152,336,151,62,254,25,78,203,233,57,159,121,55,97,200,47,27,21]
# these are set in the lighter weight in the picture
regular_labels = ["Two-","Ras","Parkinson's","RNA","mRNA","DNA repair","Chromosome-","PPAR","Insulin"]

outlined_cells = (disease_cells + signaling_cells + translation_cells + proteostasis_cells + amino_cells
                  + nucleotide_cells + oxphos_cells + glycolysis_cells + tca_cells
                  + carbohydrate_cells + lipid_cells + cofactor_cells + enzyme_cells + apoptosis_cells
                  + exosome_cells + cytoskeleton_cells + cardiac_cells)
faint_cells = transport_cells + junction_cells

dpi = 250
fig = plt.figure(figsize=(2512/dpi, 2512/dpi), dpi=dpi, facecolor="black")
ax = fig.add_axes([0, 0, 1, 1])
ax.set_xlim(0, 1568)
ax.set_ylim(1568, 0)
ax.set_facecolor("black")
ax.axis("off")

# one picture unit in points
unit = (2512/1568) * 72/dpi

ax.add_collection(PolyCollection(region_shapes, facecolors=region_colors, edgecolors="none", zorder=1))
ax.add_collection(PolyCollection([c[1] for c in outlined_cells], facecolors=[c[0] for c in outlined_cells],
                                 edgecolors="black", linewidths=0.27, zorder=2))
ax.add_collection(PolyCollection([c[1] for c in faint_cells], facecolors=[c[0] for c in faint_cells],
                                 edgecolors="#40101080", linewidths=0.22, zorder=2))
for line in medium_borders:
    ax.plot([p[0] for p in line], [p[1] for p in line], color="black", lw=0.65,
            solid_joinstyle="round", zorder=3)
for line in heavy_borders:
    ax.plot([p[0] for p in line], [p[1] for p in line], color="black", lw=1.9,
            solid_joinstyle="round", solid_capstyle="round", zorder=4)

bold = FontProperties(family="DejaVu Sans", weight="bold")
regular = FontProperties(family="DejaVu Sans")
for lines, x, y0, y1, w in zip(label_lines, label_x, label_first_y, label_last_y, label_width):
    font = regular if lines[0] in regular_labels else bold
    if lines == ["Other", "central", "metabolism", "enzymes"]:
        font = regular
    widest = max(TextPath((0, 0), s, size=100, prop=font).get_extents().width for s in lines)
    em = w * 0.99 / widest * 100
    size = em * unit
    for i, s in enumerate(lines):
        y = y0 if len(lines) == 1 else y0 + (y1 - y0) * i / (len(lines) - 1)
        t = ax.text(x, y - 0.045 * em, s, color="white", fontproperties=font, fontsize=size,
                    ha="center", va="center_baseline", zorder=5)
        off = 0.15 + size * 0.01
        t.set_path_effects([pe.withSimplePatchShadow(offset=(off, -off), shadow_rgbFace="black", alpha=0.5),
                            pe.Normal()])

# frame goes over everything
for x0, y0, w, h in [(0, 0, 1568, 7.5), (0, 1561, 1568, 7.5), (0, 0, 7.5, 1568), (1561, 0, 7.5, 1568)]:
    ax.add_patch(plt.Rectangle((x0, y0), w, h, facecolor="black", edgecolor="none", zorder=6))

fig.savefig("out.png", dpi=dpi, facecolor="black")
